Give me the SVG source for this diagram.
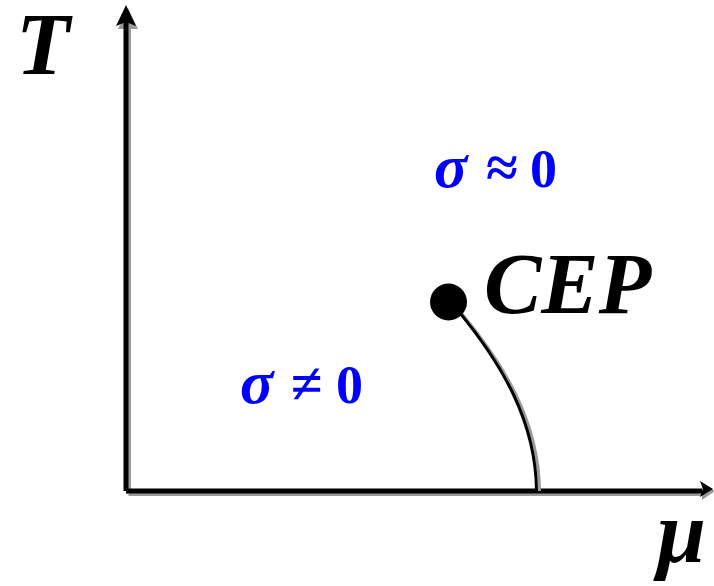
<svg xmlns="http://www.w3.org/2000/svg" width="714" height="586" viewBox="0 0 714 586">
<style>
.lbl{font-family:"Liberation Serif","Times New Roman",serif;font-weight:bold;font-style:italic;fill:#000}
.blue{font-family:"Liberation Serif","Times New Roman",serif;font-weight:bold;fill:#0000FF;font-size:54px}
.sig{font-style:italic;font-size:62px}
.op{font-size:58px}
.ax{stroke:#000;stroke-width:5;fill:none}
.sh{stroke:#999;stroke-width:5;fill:none}
</style>
<rect width="714" height="586" fill="#fff"/>
<g id="axes">
  <line class="sh" x1="128.5" y1="24" x2="128.5" y2="493.5"/>
  <line class="sh" x1="128.5" y1="493.5" x2="702" y2="493.5"/>
  <polygon points="128,8 138,29 118,29" fill="#999"/>
  <polygon points="715,491 702,483 702,500" fill="#999"/>
  <line class="ax" x1="126" y1="22" x2="126" y2="491"/>
  <line class="ax" x1="126" y1="491" x2="702" y2="491"/>
  <polygon points="126,5 136,26 126,22 116,26" fill="#000"/>
  <polygon points="713,489 700,481 703,489 700,497" fill="#000"/>
</g>
<g id="curve">
  <path d="M 462 314 C 502 362 539 420 539.5 491" stroke="#999" stroke-width="3" fill="none"/>
  <path d="M 460 313 C 500 362 536 420 536.5 491" stroke="#000" stroke-width="3" fill="none"/>
</g>
<g id="cep">
  <circle cx="448.5" cy="302" r="18.5" fill="#000"/>
  <text class="lbl" x="484" y="313" font-size="86">CEP</text>
</g>
<g id="labels">
  <text class="lbl" x="16" y="74" font-size="88">T</text>
  <text class="lbl" x="657" y="562" font-size="88">μ</text>
  <text class="blue" y="187"><tspan class="sig" x="434">σ</tspan><tspan class="op" x="486">≈</tspan><tspan x="530">0</tspan></text>
  <text class="blue" y="403"><tspan class="sig" x="240">σ</tspan><tspan class="op" x="291">≠</tspan><tspan x="336">0</tspan></text>
</g>
</svg>
